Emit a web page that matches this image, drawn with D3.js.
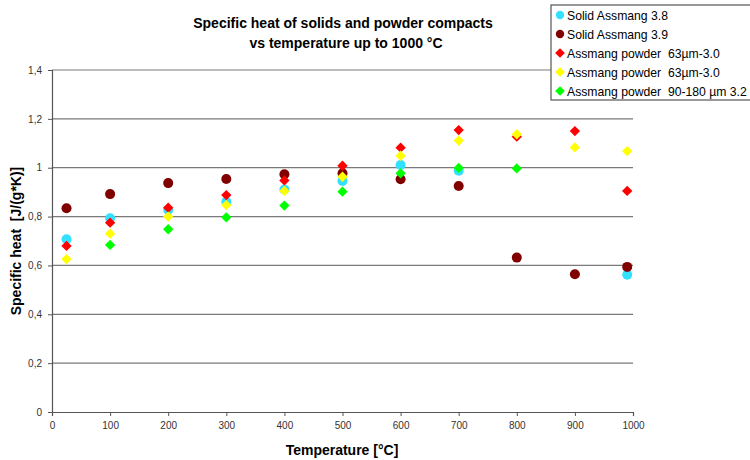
<!DOCTYPE html>
<html>
<head>
<meta charset="utf-8">
<script src="https://cdn.jsdelivr.net/npm/d3@7"></script>
<style>
  body { margin: 0; background: #fff; }
  text { font-family: Arial, "Liberation Sans", sans-serif; }
</style>
</head>
<body>
<svg width="750" height="460"></svg>
<script>
// series names
var seriesNames = ["Solid Assmang 3.8", "Solid Assmang 3.9", "Assmang powder  63\u00b5m-3.0",
  "Assmang powder  63\u00b5m-3.0", "Assmang powder  90-180 \u00b5m 3.2"];
var seriesColors = ["#33e0ff", "#800000", "#ff0000", "#ffff00", "#00ff00"];
var seriesShapes = ["circle", "circle", "diamond", "diamond", "diamond"];

// temperatures [°C] and specific heat values [J/(g*K)]
var tSolid38 = [25, 100, 200, 300, 400, 500, 600, 700, 990];
var cpSolid38 = [0.707, 0.793, 0.827, 0.861, 0.911, 0.946, 1.011, 0.988, 0.562];

var tSolid39 = [25, 100, 200, 300, 400, 500, 600, 700, 800, 900, 990];
var cpSolid39 = [0.834, 0.892, 0.937, 0.954, 0.973, 0.977, 0.953, 0.925, 0.632, 0.564, 0.594];

var tPowderA = [25, 100, 200, 300, 400, 500, 600, 700, 800, 900, 990];
var cpPowderA = [0.680, 0.775, 0.836, 0.888, 0.948, 1.008, 1.082, 1.154, 1.127, 1.150, 0.905];

var tPowderB = [25, 100, 200, 300, 400, 500, 600, 700, 800, 900, 990];
var cpPowderB = [0.626, 0.730, 0.800, 0.847, 0.905, 0.963, 1.049, 1.111, 1.137, 1.083, 1.068];

var tPowderC = [100, 200, 300, 400, 500, 600, 700, 800];
var cpPowderC = [0.684, 0.748, 0.797, 0.845, 0.902, 0.977, 0.999, 0.997];

var xTicks = [0, 100, 200, 300, 400, 500, 600, 700, 800, 900, 1000];
var yTicks = [0, 0.2, 0.4, 0.6, 0.8, 1.0, 1.2, 1.4];

var allT = [tSolid38, tSolid39, tPowderA, tPowderB, tPowderC];
var allCp = [cpSolid38, cpSolid39, cpPowderA, cpPowderB, cpPowderC];

var series = seriesNames.map(function(name, i) {
  return {
    name: name, color: seriesColors[i], shape: seriesShapes[i],
    points: allT[i].map(function(t, j) { return { t: t, cp: allCp[i][j] }; })
  };
});

var svg = d3.select("svg");
var margin = {top: 70, left: 52},
    width = 581,
    height = 342;

var x = d3.scaleLinear().domain([0, 1000]).range([0, width]);
var y = d3.scaleLinear().domain([0, 1.4]).range([height, 0]);

var g = svg.append("g")
  .attr("transform", "translate(" + margin.left + "," + margin.top + ")");

// gridlines
g.selectAll(".grid")
  .data(yTicks.filter(function(d) { return d > 0; }))
  .enter().append("line")
  .attr("x1", 0).attr("x2", width)
  .attr("y1", function(d) { return y(d); })
  .attr("y2", function(d) { return y(d); })
  .style("stroke", "#7a7a7a")
  .style("stroke-width", 1.2);

// axes
var fmt = function(d) { return String(+d.toFixed(1)).replace(".", ","); };
var xAxis = g.append("g")
  .attr("transform", "translate(0," + height + ")")
  .call(d3.axisBottom(x).tickValues(xTicks).tickSize(4).tickPadding(6).tickFormat(d3.format("d")));
var yAxis = g.append("g")
  .call(d3.axisLeft(y).tickValues(yTicks).tickSize(4).tickPadding(6).tickFormat(fmt));
[xAxis, yAxis].forEach(function(a) {
  a.select(".domain").style("stroke", "#555").style("stroke-width", 1.2);
  a.selectAll(".tick line").style("stroke", "#555");
  a.selectAll(".tick text").style("font-size", "10px").style("fill", "#333")
    .style("font-family", "'Liberation Sans Narrow', Arial, sans-serif");
});

// markers
var diamond = d3.symbol().type(d3.symbolDiamond2).size(68);
series.forEach(function(s) {
  var sg = g.append("g");
  if (s.shape === "circle") {
    sg.selectAll("circle").data(s.points).enter().append("circle")
      .attr("cx", function(d) { return x(d.t); })
      .attr("cy", function(d) { return y(d.cp); })
      .attr("r", 5)
      .style("fill", s.color);
  } else {
    sg.selectAll("path").data(s.points).enter().append("path")
      .attr("d", diamond)
      .attr("transform", function(d) { return "translate(" + x(d.t) + "," + y(d.cp) + ")"; })
      .style("fill", s.color);
  }
});

// title
var title = svg.append("text")
  .attr("text-anchor", "middle")
  .style("font-size", "14px").style("font-weight", "bold");
title.append("tspan").attr("x", 343).attr("y", 28).text("Specific heat of solids and powder compacts");
title.append("tspan").attr("x", 346).attr("y", 48).text("vs temperature up to 1000 \u00b0C");

// axis titles
svg.append("text")
  .attr("x", 342).attr("y", 455)
  .attr("text-anchor", "middle")
  .style("font-size", "14px").style("font-weight", "bold")
  .text("Temperature [\u00b0C]");
svg.append("text")
  .attr("transform", "translate(21,241) rotate(-90)")
  .attr("text-anchor", "middle")
  .style("font-size", "14px").style("font-weight", "bold")
  .style("white-space", "pre")
  .text("Specific heat  [J/(g*K)]");

// legend
var lg = svg.append("g").attr("transform", "translate(551,5)");
lg.append("rect")
  .attr("width", 200).attr("height", 95)
  .style("fill", "#fff").style("stroke", "#555").style("stroke-width", 1.2);
var item = lg.selectAll(".legend")
  .data(series)
  .enter().append("g")
  .attr("class", "legend")
  .attr("transform", function(d, i) { return "translate(9," + (10 + i * 19) + ")"; });
item.append("path")
  .attr("d", function(d) {
    return d.shape === "circle" ? d3.symbol().type(d3.symbolCircle).size(55)()
      : d3.symbol().type(d3.symbolDiamond2).size(60)();
  })
  .style("fill", function(d) { return d.color; });
item.append("text")
  .attr("x", 7).attr("y", 5)
  .style("font-size", "12.2px")
  .style("white-space", "pre")
  .text(function(d) { return d.name; });
</script>
</body>
</html>
